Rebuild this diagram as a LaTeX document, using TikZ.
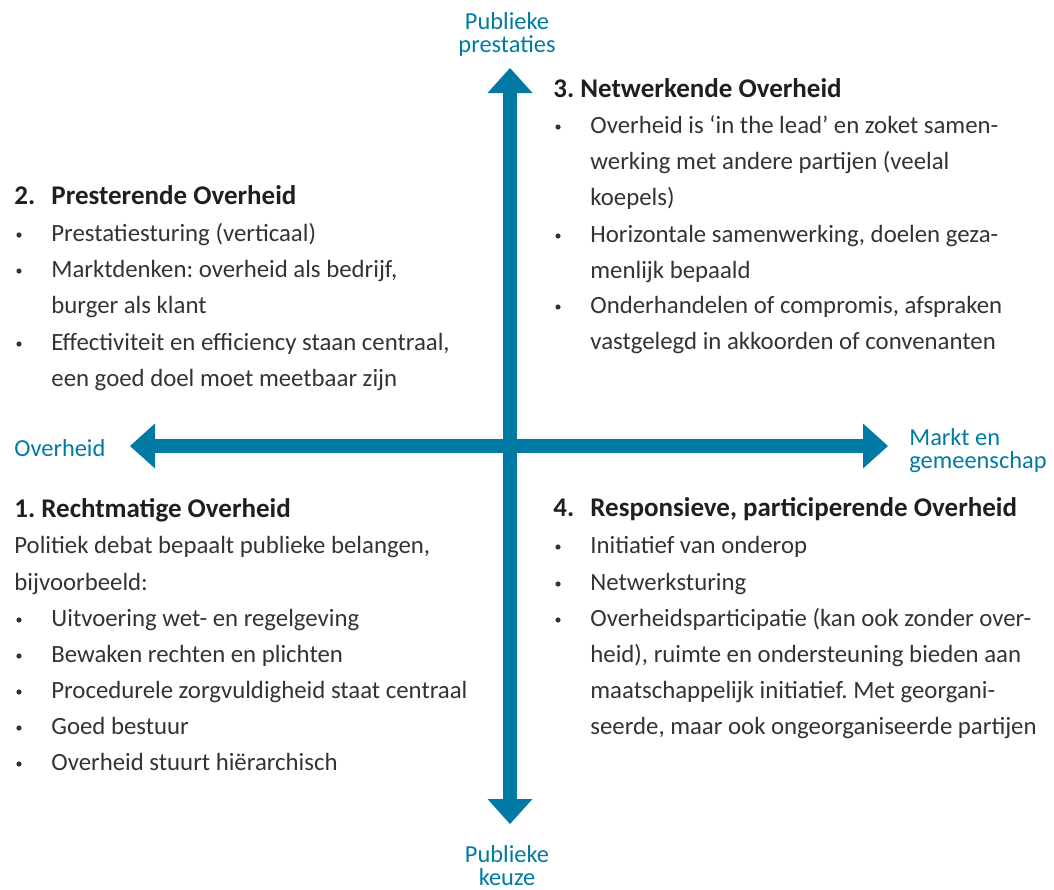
\documentclass[tikz,border=0pt]{standalone}
\usepackage{fontspec}
\setmainfont{Carlito}
\usetikzlibrary{arrows.meta, positioning}

\definecolor{axisblue}{RGB}{0,122,163}
\definecolor{textgray}{RGB}{51,51,51}

\tikzset{
  body/.style={anchor=base west, inner sep=0pt, text=textgray, font=\fontsize{12.4}{18}\selectfont},
  heading/.style={anchor=base west, inner sep=0pt, text=black!88, font=\fontsize{13.5}{18}\selectfont\bfseries},
  bulletmark/.style={circle, fill=textgray, inner sep=0pt, minimum size=2.6pt},
  axislabel/.style={anchor=base, inner sep=0pt, text=axisblue, font=\fontsize{12.2}{14}\selectfont},
  axisarrow/.style={draw=axisblue, line width=7pt,
    arrows={Triangle[length=12.5pt,width=22.5pt,line width=0pt]-Triangle[length=12.5pt,width=22.5pt,line width=0pt]}},
}

\begin{document}
\frenchspacing
\begin{tikzpicture}[x=0.5pt, y=-0.5pt]
    \useasboundingbox (0,0) rectangle (1054,889);

    % Axes
    \coordinate (north) at (510,68);
    \coordinate (south) at (510,824);
    \coordinate (west) at (130,446);
    \coordinate (east) at (888,446);
    \draw[axisarrow] (west) -- (east);
    \draw[axisarrow] (south) -- (north);

    % Axis labels
    \node[axislabel] (prest1) at (507,29) {Publieke};
    \node[axislabel] (prest2) at (507,52) {prestaties};
    \node[axislabel] (keuze1) at (507,862) {Publieke};
    \node[axislabel] (keuze2) at (507,885) {keuze};
    \node[axislabel, anchor=base west] (overheid) at (14,456) {Overheid};
    \node[axislabel, anchor=base west] (markt1) at (909,445) {Markt en};
    \node[axislabel, anchor=base west] (markt2) at (909,468) {gemeenschap};

    % 2. Presterende Overheid
    \node[heading] (num2) at (14,204) {2.};
    \node[heading] (head2) at (51,204) {Presterende Overheid};
    \foreach \y/\txt [count=\i] in {241/{Prestatiesturing (verticaal)},
        277/{Marktdenken: overheid als bedrijf,}, 313/{burger als klant},
        350/{Effectiviteit en efficiency staan centraal,}, 386/{een goed doel moet meetbaar zijn}}
      \node[body] (line2-\i) at (51,\y) {\txt};
    \foreach \y [count=\i] in {241,277,350}
      \node[bulletmark] (dot2-\i) at (19,\y-6) {};

    % 3. Netwerkende Overheid
    \node[heading] (head3) at (553,97) {3. Netwerkende Overheid};
    \foreach \y/\txt [count=\i] in {133/{Overheid is ‘in the lead’ en zoket samen-},
        169/{werking met andere partijen (veelal}, 205/{koepels)},
        242/{Horizontale samenwerking, doelen geza-}, 278/{menlijk bepaald},
        313/{Onderhandelen of compromis, afspraken}, 349/{vastgelegd in akkoorden of convenanten}}
      \node[body] (line3-\i) at (590,\y) {\txt};
    \foreach \y [count=\i] in {133,242,313}
      \node[bulletmark] (dot3-\i) at (558,\y-6) {};

    % 1. Rechtmatige Overheid
    \node[heading] (head1) at (14,517) {1. Rechtmatige Overheid};
    \node[body] (intro1a) at (14,553) {Politiek debat bepaalt publieke belangen,};
    \node[body] (intro1b) at (14,590) {bijvoorbeeld:};
    \foreach \y/\txt [count=\i] in {626/{Uitvoering wet- en regelgeving},
        662/{Bewaken rechten en plichten}, 698/{Procedurele zorgvuldigheid staat centraal},
        734/{Goed bestuur}, 770/{Overheid stuurt hiërarchisch}}
      {\node[body] (line1-\i) at (51,\y) {\txt};
       \node[bulletmark] (dot1-\i) at (19,\y-6) {};}

    % 4. Responsieve, participerende Overheid
    \node[heading] (num4) at (553,516) {4.};
    \node[heading] (head4) at (590,516) {Responsieve, participerende Overheid};
    \foreach \y/\txt [count=\i] in {553/{Initiatief van onderop}, 590/{Netwerksturing},
        626/{Overheidsparticipatie (kan ook zonder over-},
        662/{heid), ruimte en ondersteuning bieden aan},
        698/{maatschappelijk initiatief. Met georgani-},
        734/{seerde, maar ook ongeorganiseerde partijen}}
      \node[body] (line4-\i) at (590,\y) {\txt};
    \foreach \y [count=\i] in {553,590,626}
      \node[bulletmark] (dot4-\i) at (558,\y-6) {};
\end{tikzpicture}
\end{document}
